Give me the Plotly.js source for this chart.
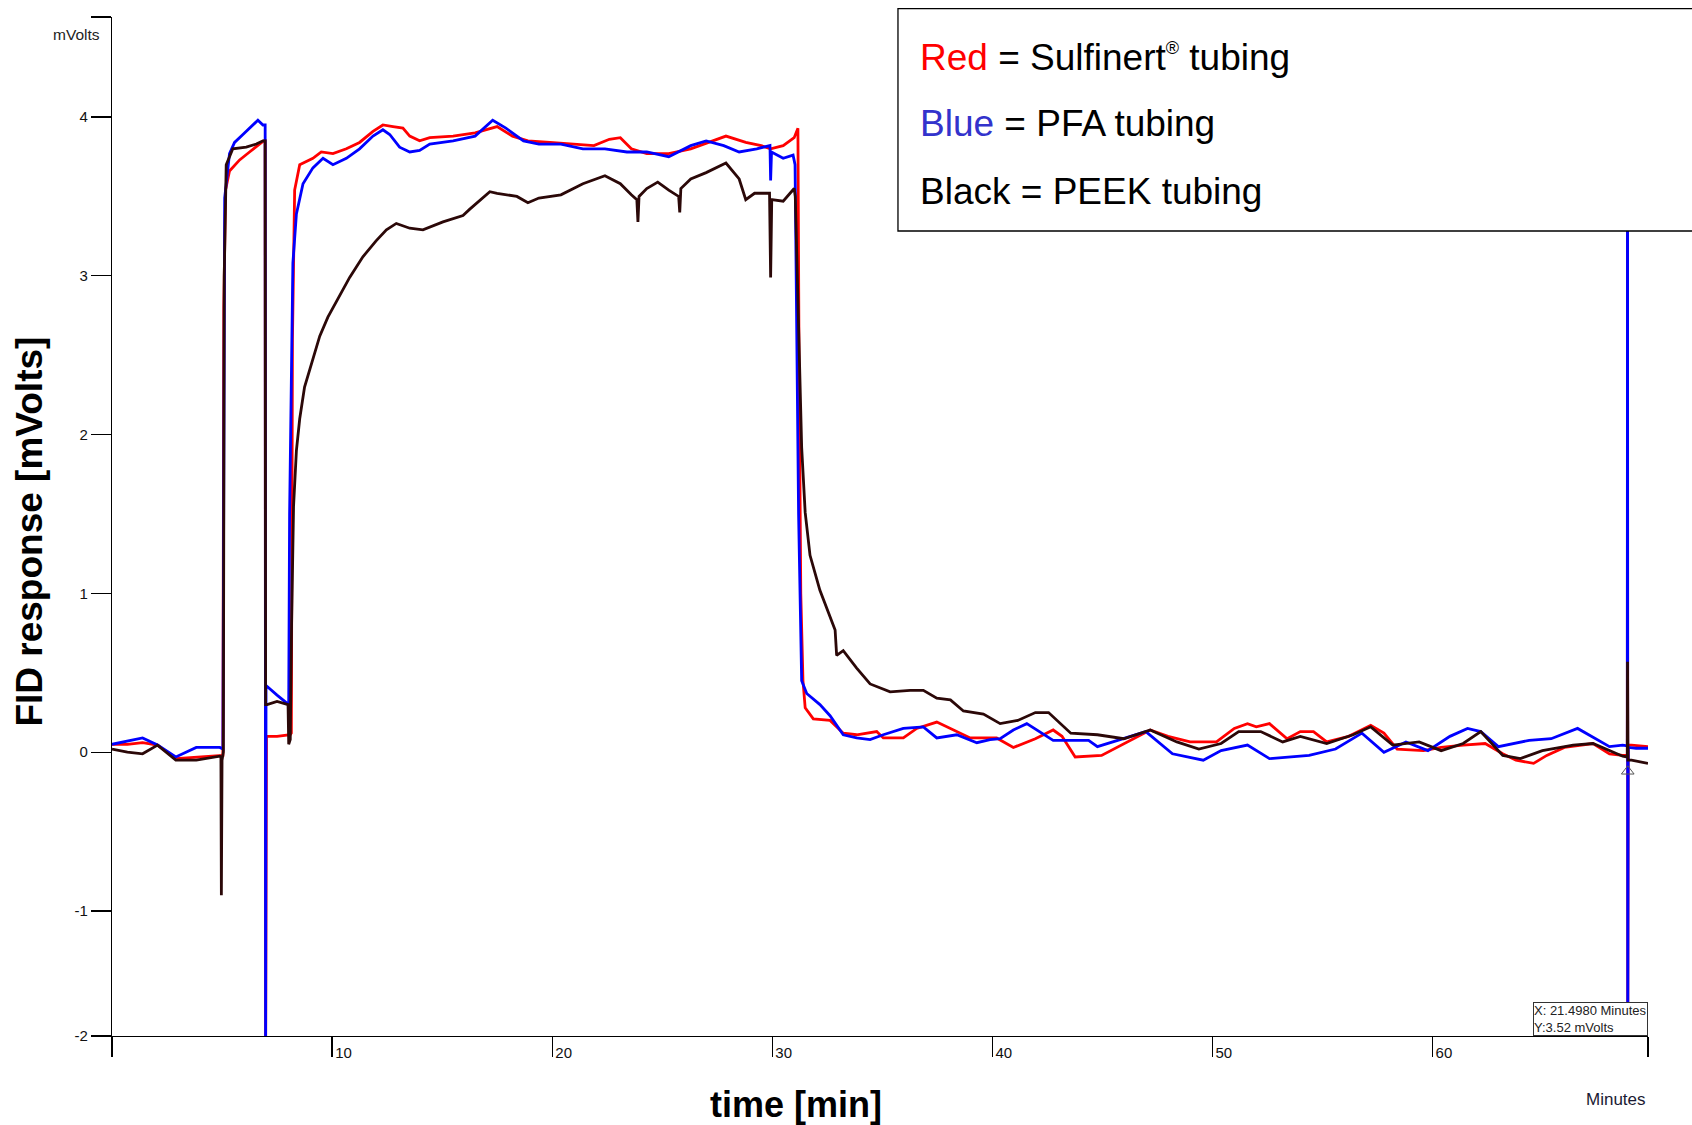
<!DOCTYPE html>
<html>
<head>
<meta charset="utf-8">
<script src="https://cdn.plot.ly/plotly-3.0.1.min.js"></script>
<style>
html,body{margin:0;padding:0;background:#fff;}
#chart{width:1692px;height:1125px;}
</style>
</head>
<body>
<div id="chart"></div>
<script>
// time [min], FID response [mVolts]
const sulfinertRed = [[0,0.05],[0.7,0.05],[1.39,0.06],[2.07,0.045],[2.9,-0.04],[3.83,-0.03],[4.9,-0.02],[5.04,-0.02],[5.08,2.8],[5.12,3.4],[5.16,3.54],[5.34,3.66],[5.8,3.73],[6.25,3.78],[6.7,3.83],[6.89,3.85],[6.96,3.85],[6.98,-2.0],[7.02,0.1],[7.5,0.1],[8.1,0.11],[8.15,0.12],[8.2,2.6],[8.3,3.54],[8.53,3.70],[9.13,3.74],[9.51,3.78],[10.04,3.77],[10.65,3.80],[11.25,3.84],[11.86,3.91],[12.31,3.95],[12.77,3.94],[13.22,3.93],[13.53,3.88],[13.98,3.85],[14.44,3.87],[15.5,3.88],[16.5,3.9],[17.5,3.94],[18.2,3.88],[18.9,3.85],[19.9,3.84],[20.9,3.83],[21.9,3.82],[22.6,3.86],[23.1,3.87],[23.6,3.8],[24.3,3.77],[25.3,3.77],[26.3,3.8],[27.3,3.85],[27.9,3.88],[28.8,3.84],[29.5,3.82],[29.93,3.8],[30.5,3.82],[31.0,3.87],[31.17,3.93],[31.22,2.5],[31.3,1.0],[31.4,0.45],[31.5,0.28],[31.87,0.21],[32.63,0.20],[33.23,0.12],[33.84,0.11],[34.75,0.13],[35.05,0.09],[35.96,0.09],[36.57,0.15],[37.48,0.19],[38.1,0.15],[39.0,0.09],[40.2,0.09],[40.96,0.03],[41.96,0.085],[42.77,0.14],[43.17,0.10],[43.77,-0.03],[44.97,-0.02],[45.98,0.055],[47.18,0.14],[47.99,0.10],[48.99,0.065],[50.19,0.065],[51.0,0.15],[51.6,0.18],[52.0,0.16],[52.6,0.18],[53.4,0.085],[54.0,0.13],[54.6,0.13],[55.2,0.065],[56.2,0.10],[57.2,0.17],[57.8,0.12],[58.4,0.02],[59.6,0.01],[60.4,0.03],[61.4,0.045],[62.4,0.055],[63.2,-0.01],[63.8,-0.05],[64.6,-0.07],[65.2,-0.02],[66.0,0.03],[67.3,0.055],[68.05,-0.01],[68.65,-0.02],[68.86,-0.02],[68.87,4.7],[68.88,-2.0],[68.9,0.045],[69.05,0.045],[69.8,0.035]];

const pfaBlue = [[0,0.05],[0.7,0.07],[1.39,0.09],[2.07,0.045],[2.9,-0.03],[3.83,0.03],[4.9,0.03],[5.04,0.02],[5.08,2.9],[5.12,3.49],[5.34,3.77],[5.57,3.84],[5.95,3.89],[6.33,3.94],[6.63,3.98],[6.86,3.95],[6.96,3.95],[6.98,-2.0],[7.0,0.42],[7.5,0.36],[7.98,0.3],[8.03,0.3],[8.07,1.5],[8.22,3.08],[8.38,3.39],[8.68,3.58],[9.13,3.68],[9.59,3.74],[10.04,3.70],[10.65,3.74],[11.25,3.80],[11.86,3.88],[12.31,3.92],[12.62,3.89],[13.07,3.81],[13.53,3.78],[13.98,3.79],[14.44,3.83],[15.5,3.85],[16.5,3.88],[17.3,3.98],[17.9,3.93],[18.7,3.85],[19.4,3.83],[20.4,3.83],[21.4,3.8],[22.4,3.8],[23.4,3.78],[24.3,3.78],[25.3,3.75],[26.3,3.82],[27.0,3.85],[27.8,3.82],[28.5,3.78],[29.3,3.8],[29.9,3.82],[29.93,3.6],[29.97,3.78],[30.5,3.74],[30.95,3.76],[31.04,3.7],[31.2,1.5],[31.34,0.45],[31.57,0.37],[32.17,0.30],[32.63,0.23],[33.23,0.11],[33.84,0.09],[34.45,0.08],[35.05,0.11],[35.96,0.15],[36.87,0.16],[37.48,0.09],[38.39,0.11],[39.3,0.06],[39.9,0.08],[40.36,0.085],[40.96,0.14],[41.57,0.18],[42.17,0.13],[42.77,0.075],[44.38,0.075],[44.78,0.035],[46.98,0.13],[48.19,-0.01],[49.59,-0.05],[50.4,0.01],[51.6,0.045],[52.6,-0.04],[54.4,-0.02],[55.6,0.02],[56.8,0.12],[57.8,0.0],[58.8,0.065],[59.8,0.01],[60.8,0.10],[61.6,0.15],[62.2,0.13],[63.0,0.035],[64.4,0.075],[65.4,0.085],[66.6,0.15],[68.05,0.035],[68.65,0.045],[68.86,0.04],[68.87,4.7],[68.88,-2.0],[68.9,0.03],[69.26,0.025],[69.8,0.025]];

const peekBlack = [[0,0.02],[0.7,0.0],[1.39,-0.01],[2.07,0.045],[2.9,-0.05],[3.83,-0.05],[4.9,-0.025],[4.95,-0.03],[4.97,-0.9],[5.0,-0.05],[5.06,0.0],[5.1,3.0],[5.19,3.70],[5.49,3.80],[6.1,3.81],[6.56,3.83],[6.86,3.85],[6.96,3.85],[6.98,0.3],[7.05,0.3],[7.5,0.32],[8.0,0.3],[8.03,0.05],[8.1,0.08],[8.16,0.80],[8.25,1.55],[8.38,1.90],[8.53,2.10],[8.75,2.30],[9.06,2.44],[9.44,2.62],[9.81,2.74],[10.2,2.84],[10.8,2.99],[11.4,3.12],[12.0,3.22],[12.47,3.29],[12.92,3.33],[13.53,3.30],[14.13,3.29],[15.04,3.34],[15.95,3.38],[16.26,3.42],[17.17,3.53],[17.5,3.52],[18.4,3.5],[18.9,3.46],[19.4,3.49],[20.4,3.51],[21.4,3.58],[22.4,3.63],[23.1,3.58],[23.6,3.51],[23.85,3.48],[23.9,3.34],[23.95,3.5],[24.3,3.55],[24.8,3.59],[25.3,3.54],[25.75,3.5],[25.8,3.4],[25.85,3.55],[26.3,3.61],[27.0,3.65],[27.9,3.71],[28.5,3.61],[28.8,3.48],[29.2,3.52],[29.88,3.52],[29.93,2.99],[29.98,3.48],[30.5,3.47],[31.0,3.55],[31.05,3.5],[31.19,2.74],[31.34,1.92],[31.5,1.51],[31.72,1.24],[32.17,1.02],[32.63,0.86],[32.86,0.77],[32.93,0.61],[33.23,0.64],[33.84,0.53],[34.45,0.43],[35.36,0.38],[36.27,0.39],[36.87,0.39],[37.48,0.34],[38.1,0.33],[38.69,0.26],[39.6,0.24],[40.36,0.18],[41.16,0.20],[41.96,0.25],[42.56,0.25],[43.57,0.12],[44.78,0.11],[45.98,0.085],[47.18,0.14],[48.39,0.065],[49.39,0.02],[50.4,0.055],[51.2,0.13],[52.2,0.13],[53.2,0.065],[54.0,0.10],[55.2,0.055],[56.4,0.11],[57.2,0.16],[58.2,0.045],[59.4,0.065],[60.4,0.01],[61.4,0.055],[62.2,0.13],[63.2,-0.02],[64.0,-0.04],[65.0,0.01],[66.4,0.045],[67.3,0.055],[68.25,0.0],[68.65,-0.025],[68.86,-0.03],[68.87,0.57],[68.89,-0.05],[69.05,-0.05],[69.8,-0.07]];

const cursorX = [68.88];
const cursorY = [-0.12];

const xRange = [0, 69.8];
const yRange = [-1.787, 4.63];
const xTickVals = [10, 20, 30, 40, 50, 60];
const xTickText = ['10', '20', '30', '40', '50', '60'];
const xEndTicks = [0, 69.8];
const yTickVals = [-1.787, -1, 0, 1, 2, 3, 4];
const yTickText = ['-2', '-1', '0', '1', '2', '3', '4'];
const yEndTicks = [4.63];

const legendLines = [
  '<span style="color:#ff0000">Red</span> = Sulfinert<sup><span style="font-size:18px">®</span></sup> tubing',
  '<span style="color:#3333cc">Blue</span> = PFA tubing',
  'Black = PEEK tubing'
];

const FONT = 'Arial, "Liberation Sans", sans-serif';

function tr(pts, color, name) {
  return {
    type: 'scatter', mode: 'lines', name: name,
    x: pts.map(p => p[0]), y: pts.map(p => p[1]),
    line: {color: color, width: 2.8}, hoverinfo: 'skip'
  };
}

const data = [
  tr(sulfinertRed, '#ff0000', 'Sulfinert'),
  tr(pfaBlue, '#0000ff', 'PFA'),
  tr(peekBlack, '#2b0808', 'PEEK'),
  {type: 'scatter', mode: 'markers', x: cursorX, y: cursorY,
   marker: {symbol: 'triangle-up-open', size: 11, color: '#555', line: {width: 1, color: '#555'}},
   hoverinfo: 'skip', cliponaxis: false}
];

const legendY = [0.9606, 0.895, 0.8283];
const annotations = legendLines.map((t, i) => ({
  xref: 'paper', yref: 'paper', x: 0.5247, y: legendY[i],
  xanchor: 'left', yanchor: 'middle', showarrow: false, text: t,
  font: {family: FONT, size: 37, color: '#000'}
}));

annotations.push(
  {xref: 'paper', yref: 'paper', x: -0.0534, y: 0.495, textangle: -90, showarrow: false,
   text: '<b>FID response [mVolts]</b>', font: {family: FONT, size: 37, color: '#000'},
   xanchor: 'center', yanchor: 'middle'},
  {xref: 'paper', yref: 'paper', x: 0.4453, y: -0.0677, showarrow: false,
   text: '<b>time [min]</b>', font: {family: FONT, size: 36, color: '#000'},
   xanchor: 'center', yanchor: 'middle', borderpad: 0},
  {xref: 'paper', yref: 'paper', x: 1, y: -0.0628, showarrow: false,
   text: 'Minutes', font: {family: FONT, size: 17, color: '#1a1a33'},
   xanchor: 'right', yanchor: 'middle'},
  {xref: 'paper', yref: 'paper', x: -0.0065, y: 0.9833, showarrow: false,
   text: 'mVolts', font: {family: FONT, size: 15.5, color: '#222'},
   xanchor: 'right', yanchor: 'middle'},
  {xref: 'paper', yref: 'paper', x: 1, y: 0, showarrow: false,
   text: 'X: 21.4980 Minutes<br>Y:3.52 mVolts', align: 'left',
   font: {family: FONT, size: 13, color: '#222'},
   xanchor: 'right', yanchor: 'bottom', bgcolor: '#fff',
   bordercolor: '#333', borderwidth: 1, borderpad: 0}
);

const axisCommon = {
  showline: true, linecolor: '#000', linewidth: 1.2, mirror: false,
  ticks: 'outside', ticklen: 20, tickwidth: 1.2, tickcolor: '#000',
  showgrid: false, zeroline: false, fixedrange: true,
  tickfont: {family: FONT, size: 15, color: '#111'}
};

const layout = {
  width: 1692, height: 1125,
  margin: {l: 112, r: 44, t: 17, b: 89, pad: 0},
  paper_bgcolor: '#fff', plot_bgcolor: '#fff',
  showlegend: false,
  font: {family: FONT},
  xaxis: Object.assign({}, axisCommon, {
    range: xRange, tickmode: 'array', tickvals: xTickVals, ticktext: xTickText,
    ticklabelposition: 'outside right', ticklabelstandoff: 3, ticklabelshift: 2
  }),
  yaxis: Object.assign({}, axisCommon, {
    range: yRange, tickmode: 'array', tickvals: yTickVals, ticktext: yTickText
  }),
  // end-of-axis tick marks without labels
  xaxis2: Object.assign({}, axisCommon, {
    overlaying: 'x', anchor: 'y', side: 'bottom', showline: false,
    range: xRange, tickmode: 'array', tickvals: xEndTicks, showticklabels: false
  }),
  yaxis2: Object.assign({}, axisCommon, {
    overlaying: 'y', anchor: 'x', side: 'left', showline: false,
    range: yRange, tickmode: 'array', tickvals: yEndTicks, showticklabels: false
  }),
  shapes: [
    {type: 'rect', xref: 'paper', yref: 'paper', x0: 0.5117, x1: 1.1, y0: 0.790, y1: 1.0082,
     fillcolor: '#fff', line: {color: '#000', width: 1.3}, layer: 'above'}
  ],
  annotations: annotations
};

data.push({type: 'scatter', mode: 'lines', x: xRange, y: [0, 0], xaxis: 'x2', yaxis: 'y2',
           line: {width: 0, color: 'rgba(0,0,0,0)'}, hoverinfo: 'skip'});

Plotly.newPlot('chart', data, layout, {staticPlot: true, displayModeBar: false});
</script>
</body>
</html>
